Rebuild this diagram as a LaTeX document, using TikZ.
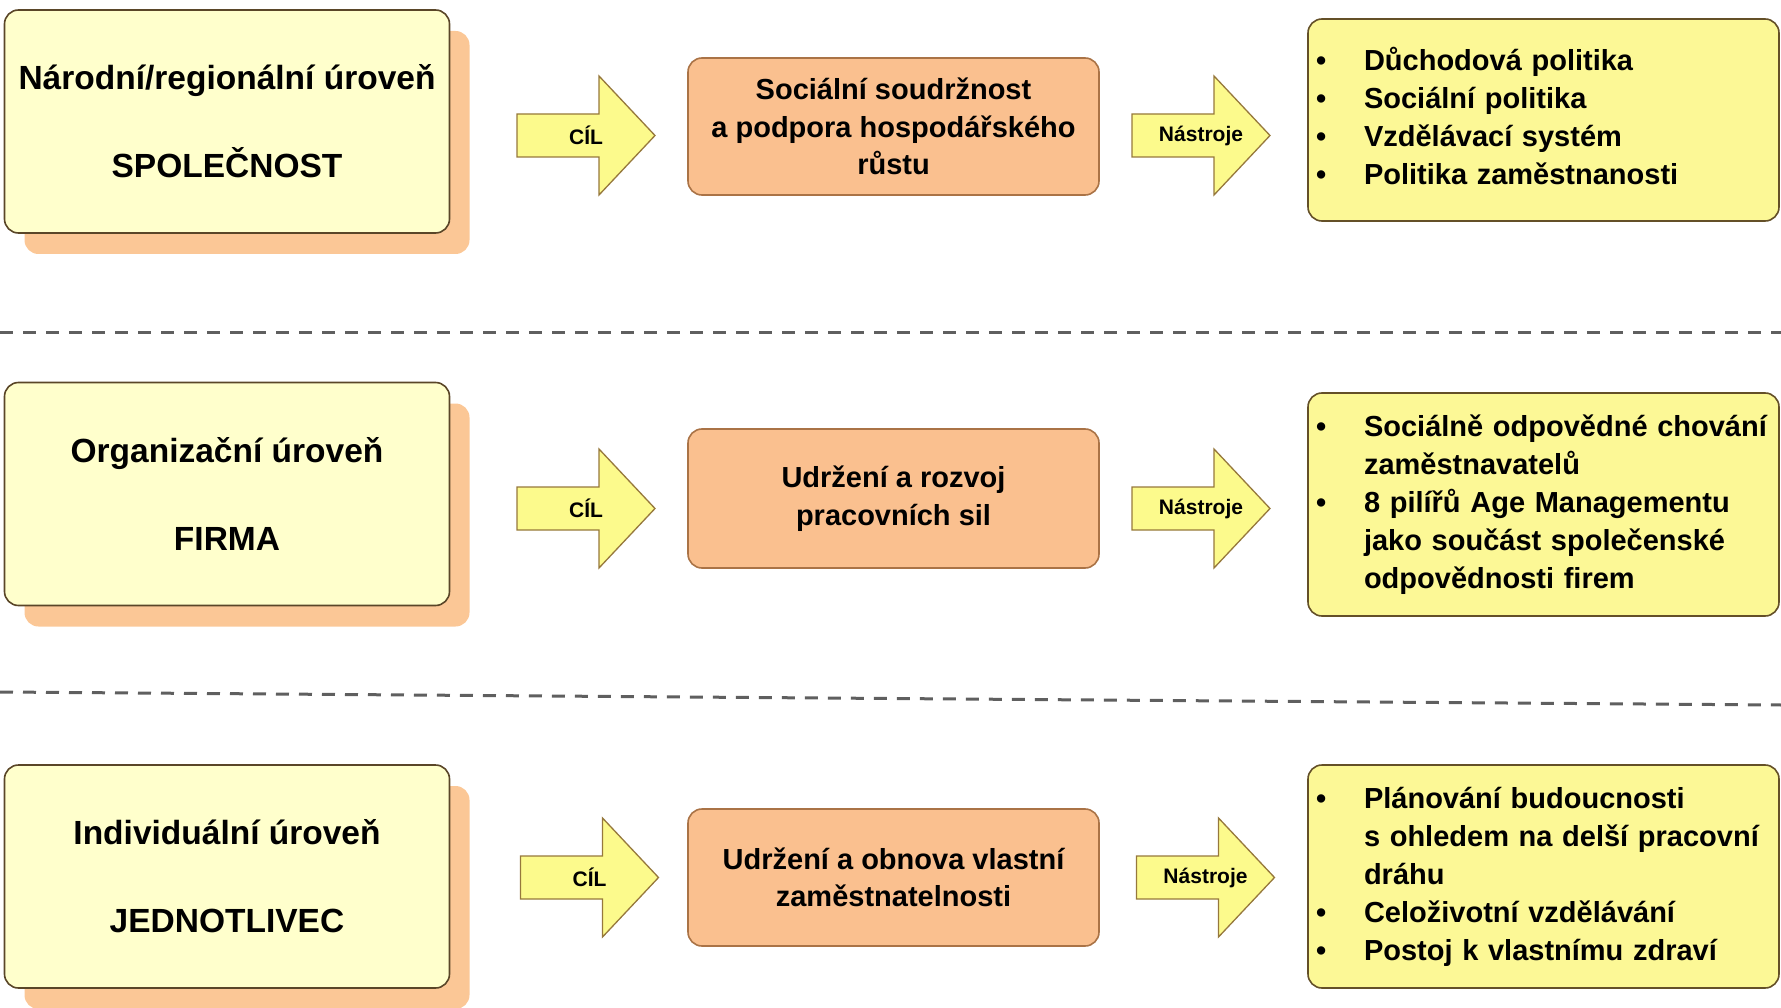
\documentclass[tikz,border=0pt]{standalone}
\usepackage{fontspec}
\setmainfont{Liberation Sans}
\usepackage{xcolor}
\usepackage{tikz}
\usetikzlibrary{shadows}
\definecolor{lvlfill}{RGB}{255,255,204}
\definecolor{lvldraw}{RGB}{90,70,40}
\definecolor{lvlshadow}{RGB}{251,199,150}
\definecolor{goalfill}{RGB}{250,192,143}
\definecolor{goaldraw}{RGB}{170,115,70}
\definecolor{listfill}{RGB}{252,248,150}
\definecolor{listdraw}{RGB}{100,80,40}
\definecolor{arrowfill}{RGB}{252,250,140}
\definecolor{arrowdraw}{RGB}{150,120,60}
\definecolor{dashgray}{RGB}{95,95,95}

\begin{document}
\begin{tikzpicture}[x=1pt, y=-1pt,
  every node/.style={inner sep=0pt},
  lvlbox/.style={draw=lvldraw, line width=1.6pt, fill=lvlfill,
                 rounded corners=14pt, align=center,
                 minimum width=445pt, minimum height=223pt,
                 font=\bfseries\fontsize{33.5}{88}\selectfont,
                 drop shadow={shadow xshift=20pt, shadow yshift=-21pt,
                              fill=lvlshadow, opacity=1}},
  goalbox/.style={draw=goaldraw, line width=1.6pt, fill=goalfill,
                  rounded corners=14pt, align=center, minimum width=411pt,
                  font=\bfseries\fontsize{29}{37.5}\selectfont},
  listbox/.style={draw=listdraw, line width=1.6pt, fill=listfill,
                  rounded corners=14pt, align=left, text width=455pt,
                  minimum width=471pt,
                  font=\bfseries\fontsize{29}{38}\selectfont},
  tagarrow/.style={draw=arrowdraw, fill=arrowfill, line width=1.3pt},
  tagtext/.style={font=\bfseries\fontsize{21}{25}\selectfont},
  divider/.style={draw=dashgray, line width=3pt, dash pattern=on 13pt off 10pt}]
\useasboundingbox (0,0) rectangle (1781,1008);

% separators between the three levels
\draw[divider] (0,333) -- (1781,333);
\draw[divider] (0,692) -- (1781,705);

% levels
\node[lvlbox] (lvl1) at (227,121.5) {Národní/regionální úroveň\\SPOLEČNOST};
\node[lvlbox] (lvl2) at (227,494) {Organizační úroveň\\FIRMA};
\node[lvlbox] (lvl3) at (227,876.5) {Individuální úroveň\\JEDNOTLIVEC};

% block arrows with their tags
\foreach \nm/\px/\py/\txt in {cil1/586/135.5/CÍL, tool1/1201/135.5/Nástroje,
                              cil2/586/508.5/CÍL, tool2/1201/508.5/Nástroje,
                              cil3/589.5/877.5/CÍL, tool3/1205.5/877.5/Nástroje}{
  \draw[tagarrow] (\px-69,\py-21.5) -- ++(82,0) -- ++(0,-38) -- (\px+69,\py)
    -- ++(-56,59.5) -- ++(0,-38) -- ++(-82,0) -- cycle;
  \node[tagtext] (\nm) at (\px,\py) {\txt};
}

% goals
\node[goalbox, minimum height=137pt] (goal1) at (893.5,126.5)
  {Sociální soudržnost\\a podpora hospodářského\\růstu};
\node[goalbox, minimum height=139pt] (goal2) at (893.5,498.5)
  {Udržení a rozvoj\\pracovních sil};
\node[goalbox, minimum height=137pt] (goal3) at (893.5,877.5)
  {Udržení a obnova vlastní\\zaměstnatelnosti};

% tools
\node[listbox, minimum height=202pt] (list1) at (1543.5,120) {%
  \begin{tabular}{@{}p{48pt}@{}l@{}}
  \textbullet & Důchodová politika\\
  \textbullet & Sociální politika\\
  \textbullet & Vzdělávací systém\\
  \textbullet & Politika zaměstnanosti
  \end{tabular}};
\node[listbox, minimum height=223pt] (list2) at (1543.5,504.5) {%
  \begin{tabular}{@{}p{48pt}@{}l@{}}
  \textbullet & Sociálně odpovědné chování\\
              & zaměstnavatelů\\
  \textbullet & 8 pilířů Age Managementu\\
              & jako součást společenské\\
              & odpovědnosti firem
  \end{tabular}};
\node[listbox, minimum height=223pt] (list3) at (1543.5,876.5) {%
  \begin{tabular}{@{}p{48pt}@{}l@{}}
  \textbullet & Plánování budoucnosti\\
              & s ohledem na delší pracovní\\
              & dráhu\\
  \textbullet & Celoživotní vzdělávání\\
  \textbullet & Postoj k vlastnímu zdraví
  \end{tabular}};
\end{tikzpicture}
\end{document}
